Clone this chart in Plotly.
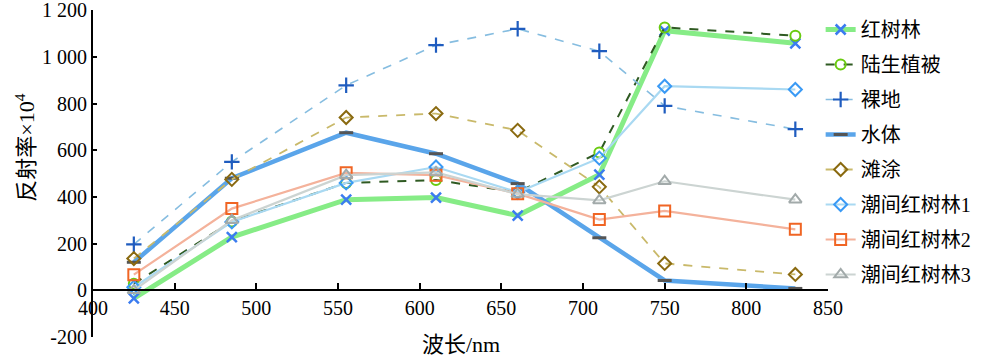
import plotly.graph_objects as go

wavelength = [425, 485, 555, 610, 660, 710, 750, 830]
mangrove = [-35, 228, 388, 397, 320, 495, 1112, 1058]
land_veg = [28, 295, 460, 472, 420, 590, 1126, 1090]
bare_land = [197, 550, 878, 1050, 1120, 1024, 790, 690]
water = [120, 480, 675, 585, 457, 225, 42, 8]
tidal_flat = [136, 475, 740, 757, 685, 443, 115, 68]
inter_m1 = [13, 293, 460, 528, 420, 566, 874, 860]
inter_m2 = [67, 350, 503, 493, 414, 303, 340, 261]
inter_m3 = [0, 300, 493, 505, 412, 385, 467, 388]

names = ["红树林", "陆生植被", "裸地", "水体", "滩涂", "潮间红树林1", "潮间红树林2", "潮间红树林3"]
series = [mangrove, land_veg, bare_land, water, tidal_flat, inter_m1, inter_m2, inter_m3]

y_ticks = [-200, 0, 200, 400, 600, 800, 1000, 1200]
y_ticktext = ["-200", "0", "200", "400", "600", "800", "1 000", "1 200"]
x_ticks = [400, 450, 500, 550, 600, 650, 700, 750, 800, 850]

styles = [
    dict(line=dict(color="#86ec86", width=5), marker=dict(symbol="x-thin", size=10, line=dict(color="#3b7cf0", width=2.5), color="#3b7cf0")),
    dict(line=dict(color="#2f5a22", width=2, dash="dash"), marker=dict(symbol="circle-open", size=10, line=dict(color="#6acb10", width=2), color="#6acb10")),
    dict(line=dict(color="#86bde0", width=1.6, dash="dash"), marker=dict(symbol="cross-thin", size=11, line=dict(color="#1f5cbf", width=2.2), color="#1f5cbf")),
    dict(line=dict(color="#5aa5ea", width=4.5), marker=dict(symbol="line-ew", size=10, line=dict(color="#555555", width=3), color="#555555")),
    dict(line=dict(color="#c9b96a", width=1.8, dash="dash"), marker=dict(symbol="diamond-open", size=10, line=dict(color="#8a6a10", width=2), color="#8a6a10")),
    dict(line=dict(color="#a9d9f2", width=2.2), marker=dict(symbol="diamond-open", size=10, line=dict(color="#3a9af5", width=2), color="#3a9af5")),
    dict(line=dict(color="#f4b29b", width=2.2), marker=dict(symbol="square-open", size=11, line=dict(color="#f06524", width=2), color="#f06524")),
    dict(line=dict(color="#ccd4d2", width=2.2), marker=dict(symbol="triangle-up-open", size=11, line=dict(color="#a2aaaa", width=2), color="#a2aaaa")),
]

fig = go.Figure()
for i, (n, s) in enumerate(zip(names, series)):
    fig.add_trace(go.Scatter(x=wavelength, y=s, name=n, mode="lines+markers",
                             legendgroup=str(i), **styles[i]))

font_family = "Liberation Serif, Noto Sans CJK SC, serif"
fig.update_layout(
    width=1000, height=363,
    margin=dict(l=93, r=172, t=10, b=26, autoexpand=False),
    plot_bgcolor="white", paper_bgcolor="white",
    font=dict(family=font_family, size=20, color="black"),
    showlegend=True,
    legend=dict(x=0.99, xanchor="left", y=1.0, yanchor="top",
                font=dict(size=20, family=font_family),
                traceorder="grouped", tracegroupgap=6, maxheight=363,
                bgcolor="rgba(0,0,0,0)", itemwidth=30),
    xaxis=dict(range=[400, 850], tickvals=x_ticks, anchor="free",
               position=200 / 1400.5, showline=True, linecolor="black", linewidth=2,
               ticks="inside", ticklen=6, tickwidth=2, tickcolor="black",
               showgrid=False, zeroline=False, ticklabeloverflow="allow",
               automargin=False, tickfont=dict(size=20, family=font_family)),
    yaxis=dict(range=[-200, 1200.5], tickvals=y_ticks, ticktext=y_ticktext,
               showline=True, linecolor="black", linewidth=2,
               ticks="inside", ticklen=4, tickwidth=2, tickcolor="black",
               showgrid=False, zeroline=False, ticklabeloverflow="allow",
               automargin=False, tickfont=dict(size=20, family=font_family)),
    annotations=[
        dict(text="波长/nm", x=0.5, y=-0.022, xref="paper", yref="paper",
             xanchor="center", yanchor="middle", showarrow=False,
             font=dict(size=22, family=font_family)),
        dict(text="反射率×10<sup>4</sup>", x=-0.092, y=0.58, xref="paper", yref="paper",
             xanchor="center", yanchor="middle", showarrow=False, textangle=-90,
             font=dict(size=22, family=font_family)),
    ],
)

fig.write_html("out.html", config={"displayModeBar": False},
               post_script="document.body.style.margin='0';document.body.style.padding='0';")
